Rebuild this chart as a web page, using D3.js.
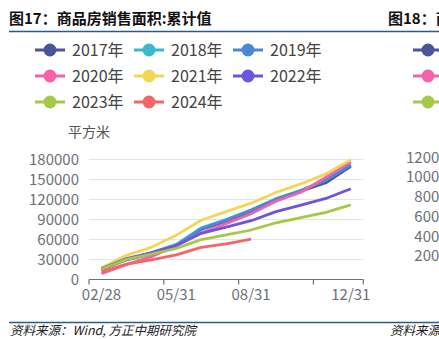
<!DOCTYPE html>
<html>
<head>
<meta charset="utf-8">
<script src="https://cdn.jsdelivr.net/npm/d3@7/dist/d3.min.js"></script>
<style>
  html, body { margin: 0; padding: 0; background: #fff; overflow: hidden; }
  svg { display: block; }
  text { font-family: "Noto Sans CJK SC", "Noto Sans", sans-serif; }
</style>
</head>
<body>
<svg id="chart" width="439" height="339"></svg>
<script>
// Month-end dates of the cumulative series (Jan and Feb are reported together)
const months = ["02/28", "03/31", "04/30", "05/31", "06/30", "07/31", "08/31", "09/30", "10/31", "11/30", "12/31"];
const shownMonths = ["02/28", "05/31", "08/31", "12/31"];
const yTicks = [0, 30000, 60000, 90000, 120000, 150000, 180000];

const years = ["2017年", "2018年", "2019年", "2020年", "2021年", "2022年", "2023年", "2024年"];
const colors = ["#4a5499", "#3db7ce", "#4a89d6", "#f562a9", "#f3d655", "#6c54e0", "#a6c846", "#f46666"];

// Cumulative sales area of commercial housing, by year
const s2017 = [16080, 29035, 37650, 50071, 74662, 87063, 101326, 118365, 132069, 144788, 169408];
const s2018 = [15021, 30093, 39969, 52458, 77143, 89593, 103950, 120117, 133442, 148604, 171654];
const s2019 = [14102, 29829, 39345, 50773, 75786, 88985, 103915, 120917, 133251, 148905, 171558];
const s2020 = [8475, 21978, 33973, 50349, 69404, 83521, 98486, 117073, 130550, 153000, 176086];
const s2021 = [17363, 36007, 47953, 66194, 88635, 101621, 114193, 130332, 143041, 158102, 179433];
const s2022 = [15703, 31046, 39768, 50738, 68923, 78178, 87890, 101422, 111179, 121250, 135837];
const s2023 = [15133, 29946, 37636, 46440, 59515, 66563, 73949, 84806, 92579, 100509, 111735];
const s2024 = [11369, 22668, 29252, 36642, 47916, 53091, 60117];
const seriesValues = [s2017, s2018, s2019, s2020, s2021, s2022, s2023, s2024];

// Neighbouring figure (only its left edge fits in the frame)
const nextTitle = "图18：商品房销售额:累计值";
const nextYears = ["2017年", "2020年", "2023年"];
const nextColors = ["#4a5499", "#f562a9", "#a6c846"];
const nextTicks = [20000, 40000, 60000, 80000, 100000, 120000];

const svg = d3.select("#chart");
const axisGrey = "#6e7079";
const rule = "#2b5a8a";

// ---- headers and footers
svg.append("text").attr("x", 9).attr("y", 24)
  .attr("font-size", 15).attr("font-weight", 700).attr("fill", "#111")
  .text("图17：商品房销售面积:累计值");
svg.append("text").attr("x", 388).attr("y", 24)
  .attr("font-size", 15).attr("font-weight", 700).attr("fill", "#111")
  .text(nextTitle);
svg.append("line").attr("x1", 9).attr("x2", 439).attr("y1", 31.5).attr("y2", 31.5)
  .attr("stroke", rule).attr("stroke-width", 1.5);
svg.append("line").attr("x1", 9).attr("x2", 439).attr("y1", 322.5).attr("y2", 322.5)
  .attr("stroke", rule).attr("stroke-width", 1.5);
svg.append("text").attr("x", 10).attr("y", 335)
  .attr("font-size", 12.5).attr("font-style", "italic").attr("fill", "#222")
  .text("资料来源：Wind, 方正中期研究院");
svg.append("text").attr("x", 390).attr("y", 335)
  .attr("font-size", 12.5).attr("font-style", "italic").attr("fill", "#222")
  .text("资料来源：Wind, 方正中期研究院");

// ---- legend
const legendCols = [35, 134, 233];
const legendRows = [50, 76, 102];
const legend = svg.append("g");
years.forEach((name, i) => {
  const x = legendCols[i % 3], y = legendRows[Math.floor(i / 3)];
  const g = legend.append("g").attr("transform", `translate(${x},${y})`);
  g.append("line").attr("x1", 0).attr("x2", 30).attr("stroke", colors[i]).attr("stroke-width", 3);
  g.append("circle").attr("cx", 15).attr("r", 6.5).attr("fill", colors[i]);
  g.append("text").attr("x", 37).attr("dy", "0.36em").attr("font-size", 16)
    .attr("fill", "#444").text(name);
});
nextYears.forEach((name, i) => {
  const g = legend.append("g").attr("transform", `translate(413,${legendRows[i]})`);
  g.append("line").attr("x1", 0).attr("x2", 30).attr("stroke", nextColors[i]).attr("stroke-width", 3);
  g.append("circle").attr("cx", 15).attr("r", 6.5).attr("fill", nextColors[i]);
  g.append("text").attr("x", 37).attr("dy", "0.36em").attr("font-size", 16)
    .attr("fill", "#444").text(name);
});

// ---- scales
const x = d3.scaleBand().domain(months).range([89, 363.3]).paddingInner(0).paddingOuter(0);
const y = d3.scaleLinear().domain([0, 180000]).range([279.3, 159.3]);

// unit label
svg.append("text").attr("x", 68).attr("y", 137).attr("font-size", 14)
  .attr("fill", "#555").text("平方米");

// ---- grid and y labels
const grid = svg.append("g");
grid.selectAll("line").data(yTicks.filter(d => d > 0)).join("line")
  .attr("x1", 89).attr("x2", 363.3)
  .attr("y1", d => Math.round(y(d)) + 0.5).attr("y2", d => Math.round(y(d)) + 0.5)
  .attr("stroke", "#e0e6f1").attr("stroke-width", 1);
svg.append("g").selectAll("text").data(yTicks).join("text")
  .attr("x", 79).attr("y", d => y(d)).attr("dy", "0.36em")
  .attr("text-anchor", "end").attr("font-size", 15).attr("fill", axisGrey)
  .text(d => d);

// neighbouring figure's y labels, cut by the frame edge
const yNext = d3.scaleLinear().domain([0, 120000]).range([275.7, 157.3]);
svg.append("g").selectAll("text").data(nextTicks).join("text")
  .attr("x", 456).attr("y", d => yNext(d)).attr("dy", "0.36em")
  .attr("text-anchor", "end").attr("font-size", 15).attr("fill", axisGrey)
  .text(d => d);

// ---- x axis: boundary ticks every third month, labels centred in bands
const axisY = 279.5;
const xAxis = svg.append("g");
xAxis.append("line").attr("x1", 89).attr("x2", 363.3).attr("y1", axisY).attr("y2", axisY)
  .attr("stroke", axisGrey).attr("stroke-width", 1.2);
const tickIdx = [0, 3, 6, 9, months.length];
xAxis.selectAll("line.tick").data(tickIdx).join("line").attr("class", "tick")
  .attr("x1", i => (i < months.length ? x(months[i]) : x.range()[1]))
  .attr("x2", i => (i < months.length ? x(months[i]) : x.range()[1]))
  .attr("y1", axisY).attr("y2", axisY + 5)
  .attr("stroke", axisGrey).attr("stroke-width", 1.2);
xAxis.selectAll("text").data(shownMonths).join("text")
  .attr("x", d => x(d) + x.bandwidth() / 2).attr("y", 300)
  .attr("text-anchor", "middle").attr("font-size", 15).attr("fill", axisGrey)
  .text(d => d);

// ---- series lines
const line = d3.line()
  .x((d, i) => x(months[i]) + x.bandwidth() / 2)
  .y(d => y(d));
svg.append("g").selectAll("path").data(seriesValues).join("path")
  .attr("d", d => line(d))
  .attr("fill", "none")
  .attr("stroke", (d, i) => colors[i])
  .attr("stroke-width", 2.8)
  .attr("stroke-linejoin", "round");
</script>
</body>
</html>
